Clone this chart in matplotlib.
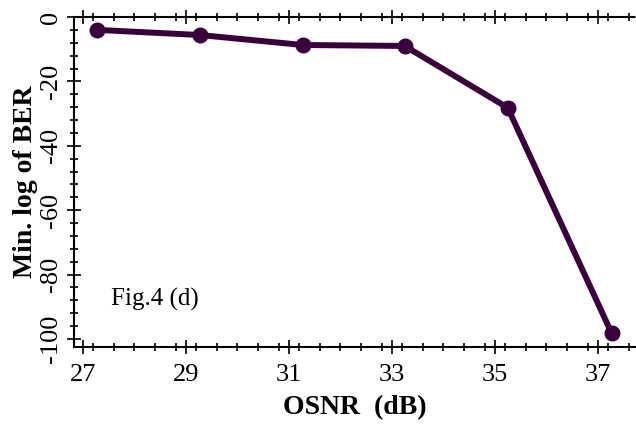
import matplotlib
matplotlib.use("Agg")
import matplotlib.pyplot as plt
from matplotlib.ticker import MultipleLocator

osnr = [27.27, 29.27, 31.27, 33.25, 35.25, 37.27]
min_log_ber = [-4.0, -5.6, -8.7, -9.0, -28.2, -98.3]

xticks = [27, 29, 31, 33, 35, 37]
yticks = [0, -20, -40, -60, -80, -100]

plt.rcParams['font.family'] = ['Liberation Serif', 'DejaVu Serif']
plt.rcParams['axes.unicode_minus'] = False

fig = plt.figure(figsize=(6.36, 4.30), dpi=100)
ax = fig.add_axes([0.1164, 0.193, 0.8836, 0.7675])

ax.plot(osnr, min_log_ber, color='#3a003c', lw=4.3, marker='o', ms=10.5,
        solid_joinstyle='round', clip_on=False, zorder=3)

ax.set_xlim(26.83, 37.74)
ax.set_ylim(-102.5, 0)
ax.set_xticks(xticks)
ax.set_yticks(yticks)
ax.xaxis.set_minor_locator(MultipleLocator(0.4))
ax.yaxis.set_minor_locator(MultipleLocator(4))

ax.spines['right'].set_visible(False)
for s in ['left', 'bottom', 'top']:
    ax.spines[s].set_linewidth(1.5)
ax.spines['top'].set_linestyle((0, (1, 1)))

ax.tick_params(which='both', direction='inout', top=True, right=False,
               width=1.2, labelsize=19)
ax.tick_params(which='major', length=10)
ax.tick_params(which='minor', length=6)
ax.tick_params(axis='x', which='both', labeltop=False, pad=7)
ax.tick_params(axis='y', which='both', pad=4)
for lab in ax.get_yticklabels():
    lab.set_rotation(90)
    lab.set_va('center')

ax.set_xlabel('OSNR  (dB)', fontsize=20, fontweight='bold', labelpad=7)
ax.set_ylabel('Min. log of BER', fontsize=20, fontweight='bold', labelpad=1)
ax.text(27.55, -89.5, 'Fig.4 (d)', fontsize=18)

fig.savefig('out.png', dpi=100)
